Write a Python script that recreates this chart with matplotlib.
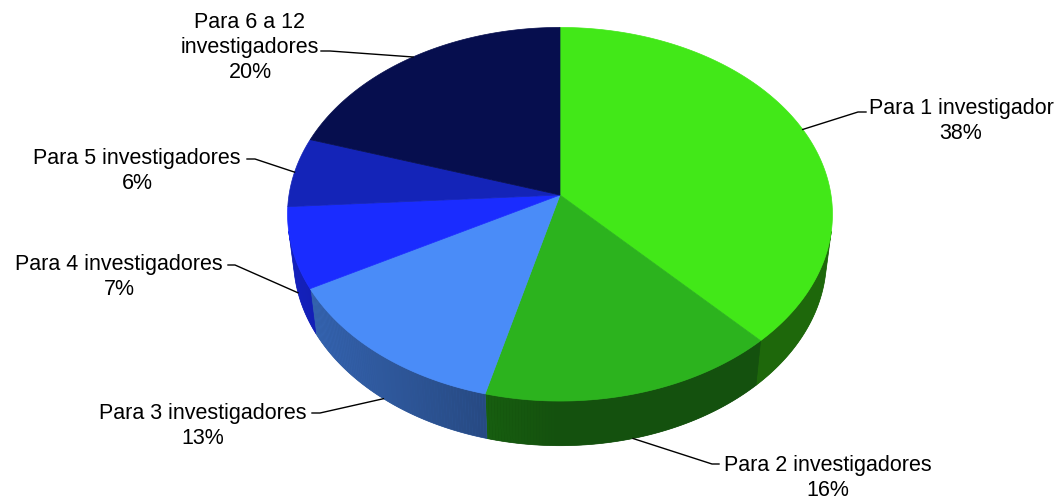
import numpy as np
import matplotlib.pyplot as plt
from matplotlib.patches import Polygon
from matplotlib.colors import to_rgb

labels = [
    "Para 1 investigador",
    "Para 2 investigadores",
    "Para 3 investigadores",
    "Para 4 investigadores",
    "Para 5 investigadores",
    "Para 6 a 12\ninvestigadores",
]
shares = [38, 16, 13, 7, 6, 20]
colors = ["#42e818", "#2cb31e", "#4a8cf8", "#1a2cff", "#1424b8", "#060e4e"]

# label block centres and leader elbows, in pixels
label_xy = [(961, 121), (828, 478), (203, 426), (119, 277), (137, 171), (250, 48)]
elbows = [
    [(858, 113), (866, 113)],
    [(712, 465), (719, 465)],
    [(320, 414), (312, 414)],
    [(235, 266), (228, 266)],
    [(255, 160), (247, 160)],
    [(330, 52), (321, 52)],
]

W, H = 1063, 502
CX, CY = 560, 196          # apex of the slices on screen
TILT = np.radians(43)
DIST = 7.1                 # camera distance in pie radii
FOCAL = 271 * DIST
THICK = 0.23

plt.rcParams["font.family"] = ["Liberation Sans", "DejaVu Sans"]


def project(theta, z):
    """Perspective projection of a rim point (theta clockwise from the back)."""
    theta = np.asarray(theta, dtype=float)
    px = np.sin(theta)
    py = np.cos(theta)
    depth = py * np.cos(TILT) + DIST - z * np.sin(TILT)
    up = py * np.sin(TILT) + z * np.cos(TILT)
    return CX + FOCAL * px / depth, CY - FOCAL * up / depth


def shade(color, theta):
    light = 0.45 + 0.3 * max(0.0, -np.sin(theta))
    return tuple(c * light for c in to_rgb(color))


def wall_poly(t):
    xt, yt = project(t, 0)
    xb, yb = project(t[::-1], -THICK)
    return np.column_stack([np.r_[xt, xb], np.r_[yt, yb]])


fig = plt.figure(figsize=(W / 100, H / 100), dpi=100)
ax = fig.add_axes([0, 0, 1, 1])
ax.set_xlim(0, W)
ax.set_ylim(H, 0)
ax.axis("off")

bounds = np.concatenate([[0], np.cumsum(shares)]) / sum(shares) * 2 * np.pi
# the side wall faces the camera where cos(theta) < -1 / (DIST * cos(TILT))
lim = np.arccos(-1 / (DIST * np.cos(TILT)))
vis_lo, vis_hi = lim, 2 * np.pi - lim

# side walls: a solid base, then shaded strips over it
for a1, a2, col in zip(bounds[:-1], bounds[1:], colors):
    lo, hi = max(a1, vis_lo), min(a2, vis_hi)
    if hi <= lo:
        continue
    steps = np.linspace(lo, hi, max(2, int((hi - lo) / 0.01)))
    base = shade(col, (lo + hi) / 2)
    ax.add_patch(Polygon(wall_poly(steps), closed=True, facecolor=base,
                         edgecolor=base, lw=0.5))
    for t1, t2 in zip(steps[:-1], steps[1:]):
        c = shade(col, (t1 + t2) / 2)
        ax.add_patch(Polygon(wall_poly(np.array([t1, t2])), closed=True,
                             facecolor=c, edgecolor="none", lw=0))

# top faces
for a1, a2, col in zip(bounds[:-1], bounds[1:], colors):
    t = np.linspace(a1, a2, 200)
    x, y = project(t, 0)
    verts = np.column_stack([np.r_[CX, x], np.r_[CY, y]])
    ax.add_patch(Polygon(verts, closed=True, facecolor=col, edgecolor=col, lw=0.5))

# labels with leader lines
for a1, a2, lab, val, (tx, ty), elb in zip(bounds[:-1], bounds[1:], labels, shares,
                                            label_xy, elbows):
    mid = (a1 + a2) / 2
    on_wall = vis_lo < mid < vis_hi
    sx, sy = project(mid, -THICK if on_wall else 0)
    xs = [float(sx)] + [p[0] for p in elb]
    ys = [float(sy)] + [p[1] for p in elb]
    ax.plot(xs, ys, color="black", lw=1.0)
    ax.text(tx, ty, f"{lab}\n{val}%", ha="center", va="center",
            multialignment="center", fontsize=15.5, linespacing=1.25)

fig.savefig("out.png", dpi=100)
